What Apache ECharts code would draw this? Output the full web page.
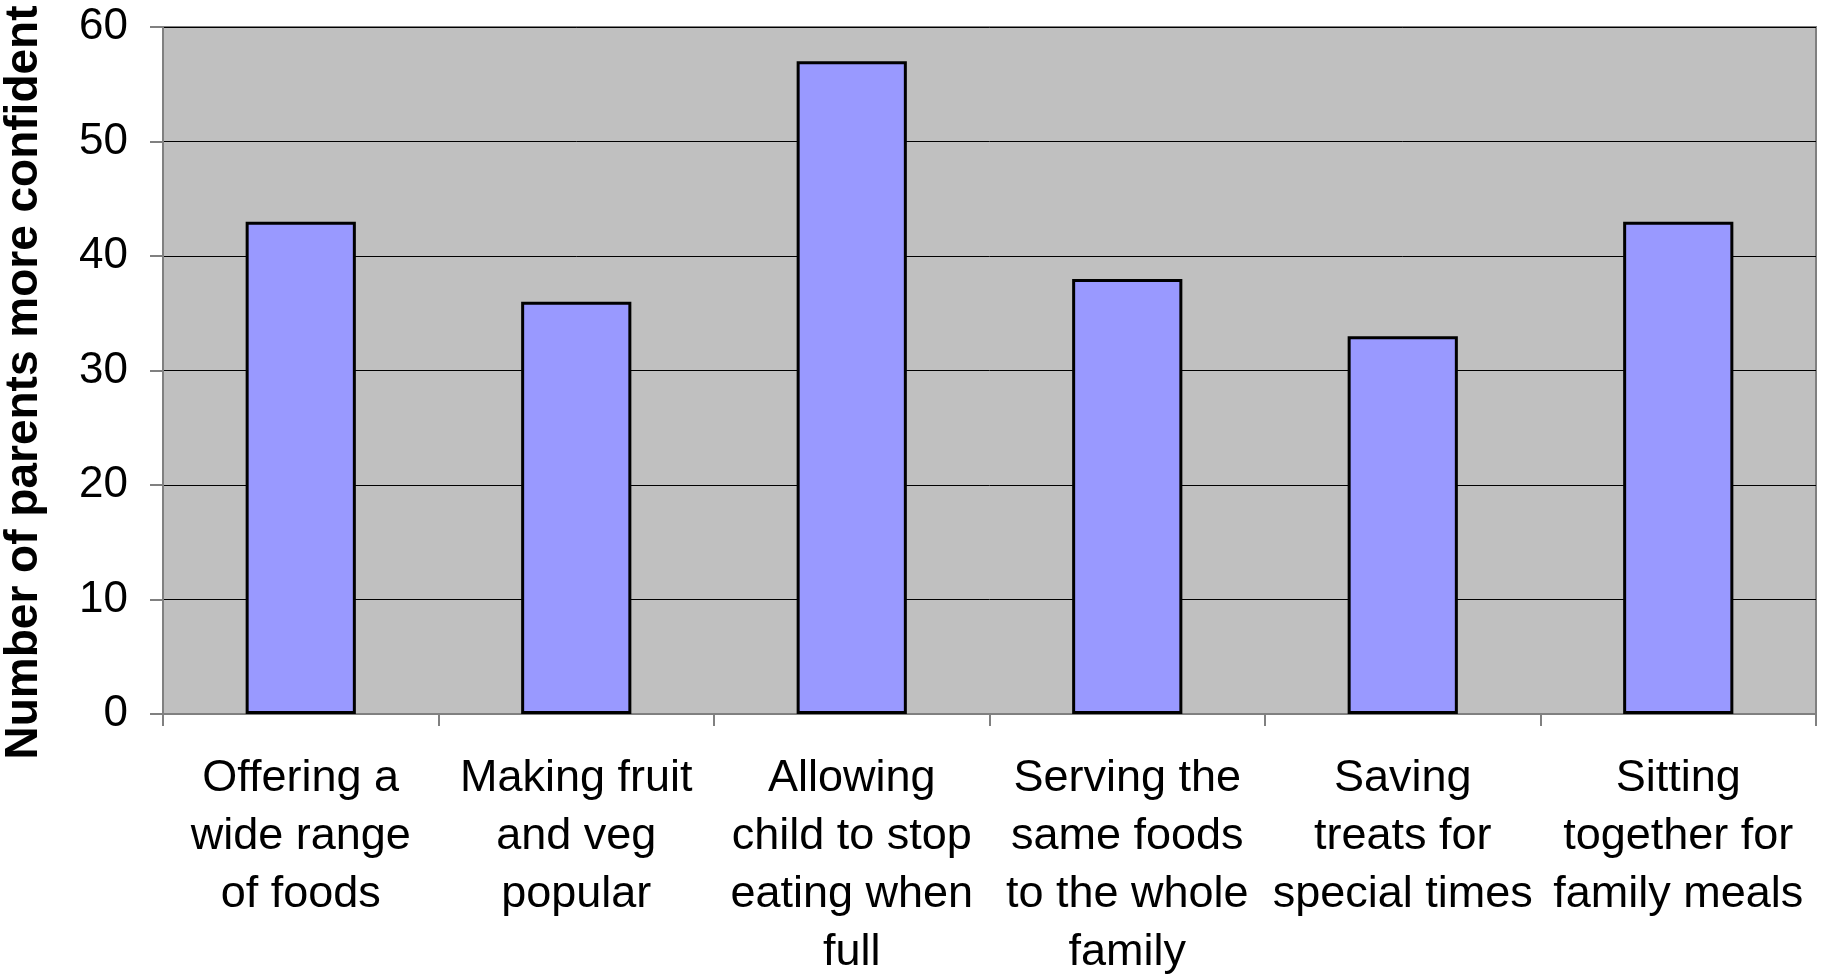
<!DOCTYPE html>
<html>
<head>
<meta charset="utf-8">
<script src="https://cdn.jsdelivr.net/npm/echarts@6/dist/echarts.min.js"></script>
<style>
  html, body { margin: 0; padding: 0; background: #fff; }
  #chart { width: 1821px; height: 974px; }
</style>
</head>
<body>
<div id="chart"></div>
<script>
// categories and counts
const categories = [
  'Offering a\nwide range\nof foods',
  'Making fruit\nand veg\npopular',
  'Allowing\nchild to stop\neating when\nfull',
  'Serving the\nsame foods\nto the whole\nfamily',
  'Saving\ntreats for\nspecial times',
  'Sitting\ntogether for\nfamily meals'
];
const parentCounts = [43, 36, 57, 38, 33, 43];
const yTicks = [0, 10, 20, 30, 40, 50, 60];

const chart = echarts.init(document.getElementById('chart'), null, { renderer: 'canvas' });

const font = 'Liberation Sans, Arial, sans-serif';

chart.setOption({
  animation: false,
  textStyle: { fontFamily: font },
  grid: {
    left: 163, right: 5, top: 27, bottom: 260,
    outerBoundsMode: 'none',
    containLabel: false,
    show: true,
    backgroundColor: '#C0C0C0',
    borderColor: '#808080',
    borderWidth: 2
  },
  xAxis: {
    type: 'category',
    data: categories,
    axisLine: { show: true, lineStyle: { color: '#808080', width: 2 } },
    axisTick: { show: true, alignWithLabel: false, length: 12, lineStyle: { color: '#808080', width: 2 } },
    axisLabel: {
      interval: 0,
      margin: 36,
      color: '#000',
      fontSize: 45,
      lineHeight: 58,
      fontFamily: font
    },
    splitLine: { show: false }
  },
  yAxis: {
    type: 'value',
    min: yTicks[0],
    max: yTicks[yTicks.length - 1],
    interval: 10,
    name: 'Number of parents more confident',
    nameLocation: 'middle',
    nameGap: 116,
    nameTextStyle: {
      fontSize: 46,
      fontWeight: 'bold',
      color: '#000',
      fontFamily: font,
      padding: [0, 24, 0, 0]
    },
    axisLine: { show: true, lineStyle: { color: '#808080', width: 2 } },
    axisTick: { show: true, length: 13, lineStyle: { color: '#808080', width: 2 } },
    axisLabel: { margin: 35, color: '#000', fontSize: 44, fontFamily: font },
    splitLine: { show: true, lineStyle: { color: '#000', width: 1 } }
  },
  series: [
    {
      type: 'bar',
      data: parentCounts,
      barWidth: '40%',
      itemStyle: { color: '#9999FF', borderColor: '#000', borderWidth: 3 }
    }
  ]
});
</script>
</body>
</html>
